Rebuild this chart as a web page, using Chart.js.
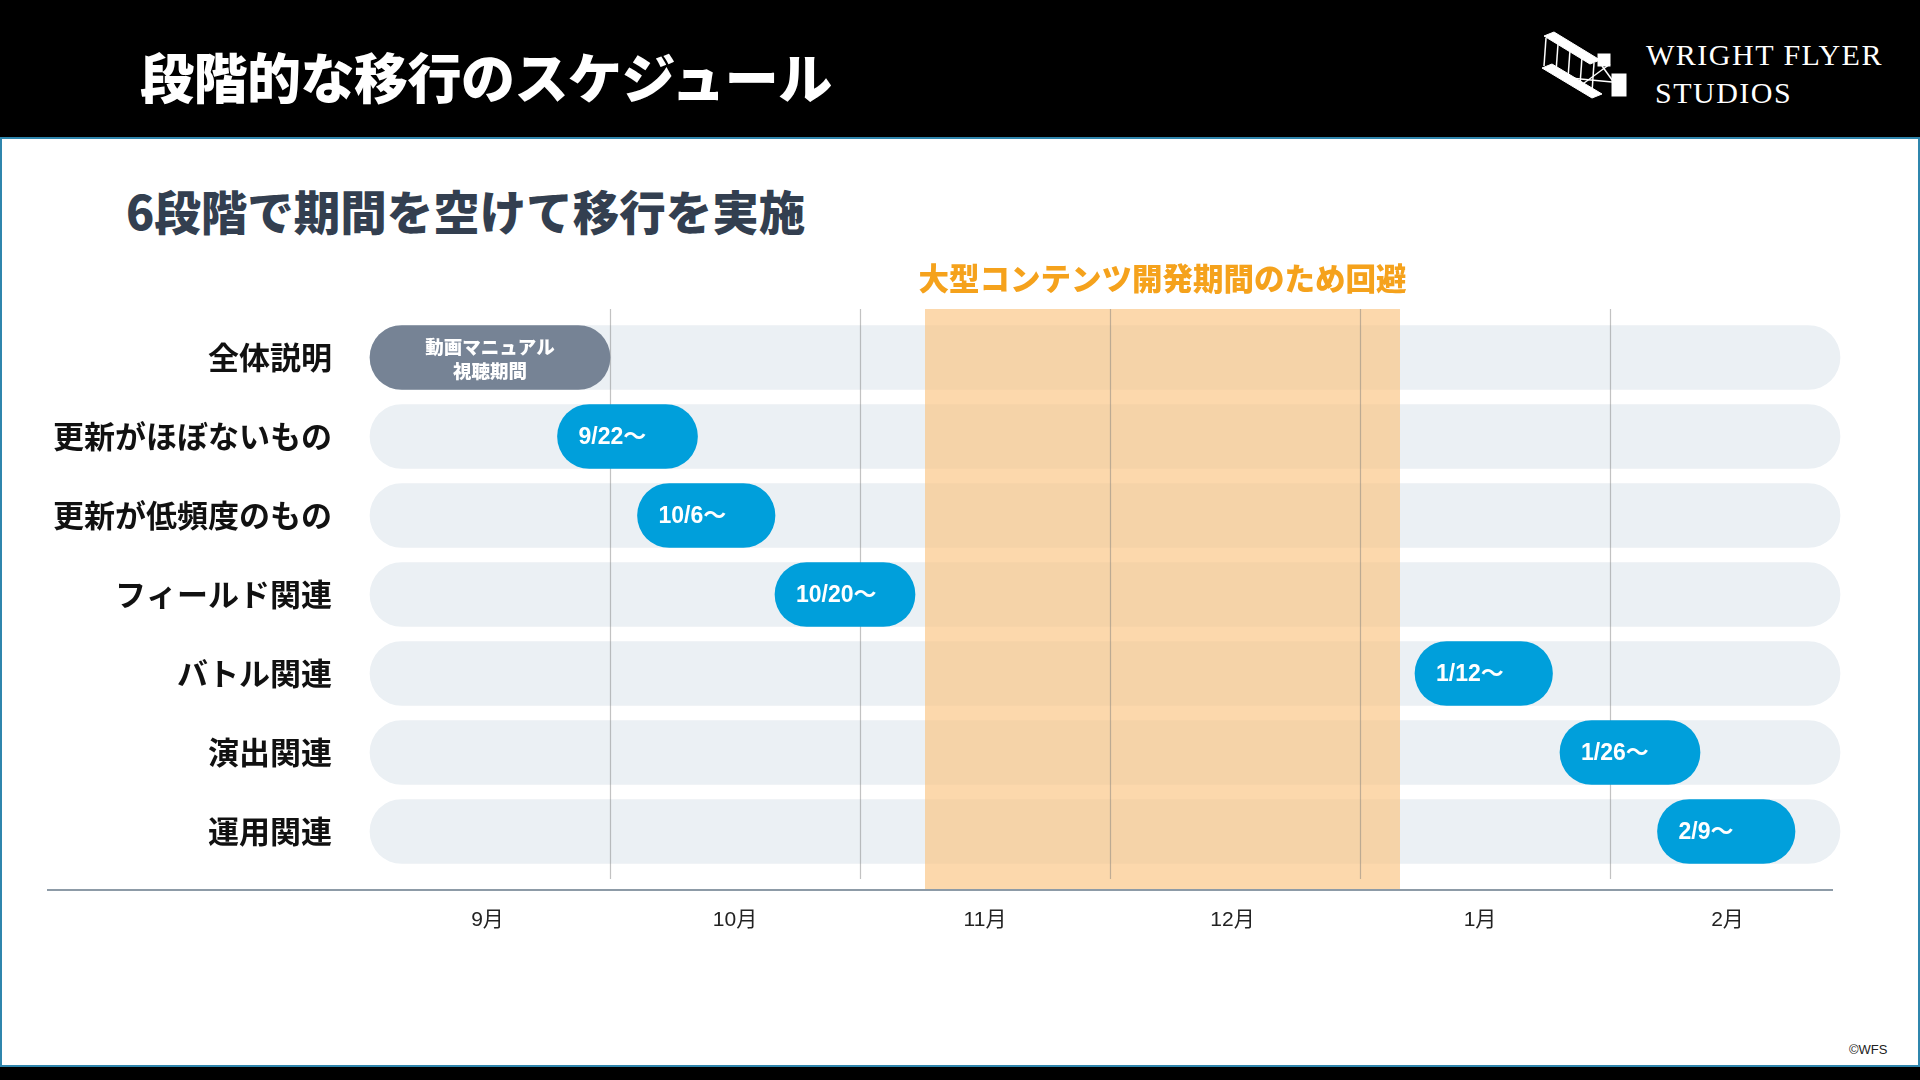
<!DOCTYPE html>
<html lang="ja">
<head>
<meta charset="utf-8">
<script src="https://cdn.jsdelivr.net/npm/chart.js@4"></script>
<style>
  html, body { margin: 0; padding: 0; }
  body { width: 1920px; height: 1080px; position: relative; overflow: hidden; background: #fff;
         font-family: 'Noto Sans CJK JP', 'Noto Sans', sans-serif; }
  #header { position: absolute; left: 0; top: 0; width: 1920px; height: 137px; background: #000; }
  #frame { position: absolute; left: 0; top: 137px; width: 1916px; height: 926px;
           border: 2px solid #2f86ad; }
  #footer { position: absolute; left: 0; top: 1067px; width: 1920px; height: 13px; background: #000; }
  #title { position: absolute; left: 140px; top: 38px; color: #fff; font-size: 54px; font-weight: 900;
           letter-spacing: -0.5px; line-height: 76px; white-space: nowrap; }
  #logo-text { position: absolute; left: 1646px; top: 36px; color: #fff; font-family: 'Liberation Serif', serif;
               font-size: 30px; line-height: 38px; letter-spacing: 1.5px; }
  #logo-icon { position: absolute; left: 1540px; top: 30px; }
  #subtitle { position: absolute; left: 126px; top: 179px; color: #333f50; font-size: 46.5px; font-weight: 900;
              line-height: 62px; letter-spacing: 0; white-space: nowrap; }
  #copy { position: absolute; left: 1849px; top: 1042px; font-family: 'Liberation Sans', sans-serif;
          font-size: 13px; color: #222; }
  #chart { position: absolute; left: 0; top: 0; }
</style>
</head>
<body>
<div id="header"></div>
<div id="frame"></div>
<div id="footer"></div>
<div id="title">段階的な移行のスケジュール</div>
<svg id="logo-icon" width="92" height="74" viewBox="0 0 92 74">
  <g fill="#fff" stroke="#fff">
    <polygon points="4,6 14,2 60,30 50,34" />
    <polygon points="2,38 12,34 62,64 52,68" />
    <rect x="58" y="24" width="12" height="12" />
    <rect x="72" y="44" width="14" height="22" />
  </g>
  <g stroke="#fff" stroke-width="1.5" fill="none">
    <line x1="6" y1="8" x2="4" y2="36" /><line x1="18" y1="14" x2="16" y2="42" />
    <line x1="30" y1="20" x2="28" y2="48" /><line x1="42" y1="27" x2="40" y2="55" />
    <line x1="54" y1="33" x2="52" y2="62" /><line x1="30" y1="48" x2="72" y2="52" />
    <line x1="40" y1="56" x2="70" y2="34" /><line x1="62" y1="36" x2="78" y2="58" />
  </g>
</svg>
<div id="logo-text">WRIGHT FLYER<br>&nbsp;STUDIOS</div>
<div id="subtitle">6段階で期間を空けて移行を実施</div>
<div id="copy">©WFS</div>
<canvas id="chart" width="1920" height="1080"></canvas>

<script>
  // ── 데이터 ──────────────────────────────────────────────
  const categories = ['全体説明', '更新がほぼないもの', '更新が低頻度のもの', 'フィールド関連', 'バトル関連', '演出関連', '運用関連'];
  const barLabels = [['動画マニュアル', '視聴期間'], '9/22〜', '10/6〜', '10/20〜', '1/12〜', '1/26〜', '2/9〜'];
  // 月単位 (0 = 9月初め)
  const barStart = [0.04, 0.79, 1.11, 1.66, 4.22, 4.80, 5.19];
  const barEnd   = [1.00, 1.35, 1.66, 2.22, 4.77, 5.36, 5.74];
  const months = ['9月', '10月', '11月', '12月', '1月', '2月'];
  const monthCenters = [0.51, 1.50, 2.50, 3.49, 4.48, 5.47];
  const monthBounds = [1, 2, 3, 4, 5];
  const trackRange = [0.04, 5.92];
  const avoidRange = [2.26, 4.16];
  const avoidLabel = '大型コンテンツ開発期間のため回避';

  const BLUE = '#009fdb';
  const GRAY = '#768395';
  const JP = "'Noto Sans CJK JP', sans-serif";
  const NUM = "'Liberation Sans', 'Noto Sans CJK JP', sans-serif";

  // ── 帯・グリッド・ラベル ─────────────────────────────────
  const overlay = {
    id: 'overlay',
    afterDatasetDraw(chart, args) {
      if (args.index !== 0) return;
      const { ctx, chartArea } = chart;
      const xs = chart.scales.x;
      const top = chartArea.top - 9;
      const axisY = chartArea.bottom + 19;
      ctx.save();
      // 回避期間の帯
      const x1 = xs.getPixelForValue(avoidRange[0]);
      const x2 = xs.getPixelForValue(avoidRange[1]);
      ctx.fillStyle = 'rgba(250,195,127,0.65)';
      ctx.fillRect(x1, top, x2 - x1, axisY - top);
      // 月の区切り線
      ctx.strokeStyle = 'rgba(120,120,120,0.45)';
      ctx.lineWidth = 1.2;
      monthBounds.forEach(v => {
        const x = Math.round(xs.getPixelForValue(v)) + 0.5;
        ctx.beginPath();
        ctx.moveTo(x, top);
        ctx.lineTo(x, chartArea.bottom + 8);
        ctx.stroke();
      });
      // 帯の見出し
      ctx.fillStyle = '#f5a21c';
      ctx.font = '900 30.5px ' + JP;
      ctx.textAlign = 'center';
      ctx.textBaseline = 'middle';
      ctx.fillText(avoidLabel, (x1 + x2) / 2, top - 31);
      ctx.restore();
    },
    afterDatasetsDraw(chart) {
      const { ctx, chartArea } = chart;
      const meta = chart.getDatasetMeta(1);
      ctx.save();
      ctx.fillStyle = '#fff';
      ctx.textBaseline = 'middle';
      meta.data.forEach((bar, i) => {
        const lab = barLabels[i];
        if (Array.isArray(lab)) {
          ctx.font = '900 18.5px ' + JP;
          ctx.textAlign = 'center';
          const cx = (bar.x + bar.base) / 2;
          ctx.fillText(lab[0], cx, bar.y - 11);
          ctx.fillText(lab[1], cx, bar.y + 13);
        } else {
          ctx.font = 'bold 23px ' + NUM;
          ctx.textAlign = 'left';
          ctx.fillText(lab, Math.min(bar.x, bar.base) + 21, bar.y + 1);
        }
      });
      // 横軸線
      ctx.strokeStyle = '#8d9ba7';
      ctx.lineWidth = 2;
      ctx.beginPath();
      ctx.moveTo(47, chartArea.bottom + 19);
      ctx.lineTo(1833, chartArea.bottom + 19);
      ctx.stroke();
      ctx.restore();
    }
  };

  new Chart(document.getElementById('chart'), {
    type: 'bar',
    data: {
      labels: categories,
      datasets: [
        {
          data: categories.map(() => trackRange.slice()),
          backgroundColor: '#ebf0f4', order: 2,
          barThickness: 64, borderRadius: 32, borderSkipped: false, grouped: false
        },
        {
          data: barStart.map((s, i) => [s, barEnd[i]]),
          backgroundColor: barStart.map((_, i) => i === 0 ? GRAY : BLUE), order: 1,
          barThickness: 64, borderRadius: 32, borderSkipped: false, grouped: false
        }
      ]
    },
    options: {
      indexAxis: 'y',
      responsive: false,
      animation: false,
      layout: { padding: { top: 318, right: 60, bottom: 0, left: 0 } },
      plugins: { legend: { display: false }, tooltip: { enabled: false } },
      scales: {
        x: {
          type: 'linear', min: 0, max: 6,
          grid: { display: false, drawTicks: false }, border: { display: false },
          afterBuildTicks: (s) => { s.ticks = monthCenters.map(v => ({ value: v })); },
          afterFit: (s) => { s.height = 209; },
          ticks: {
            callback: (v) => months[monthCenters.indexOf(v)],
            font: { family: NUM, size: 21 }, color: '#222', padding: 37, maxRotation: 0, autoSkip: false
          }
        },
        y: {
          grid: { display: false, drawTicks: false }, border: { display: false },
          afterFit: (s) => { s.width = 360; },
          ticks: { font: { family: JP, size: 31, weight: '700' }, color: '#111', padding: 28 }
        }
      }
    },
    plugins: [overlay]
  });
</script>
</body>
</html>
